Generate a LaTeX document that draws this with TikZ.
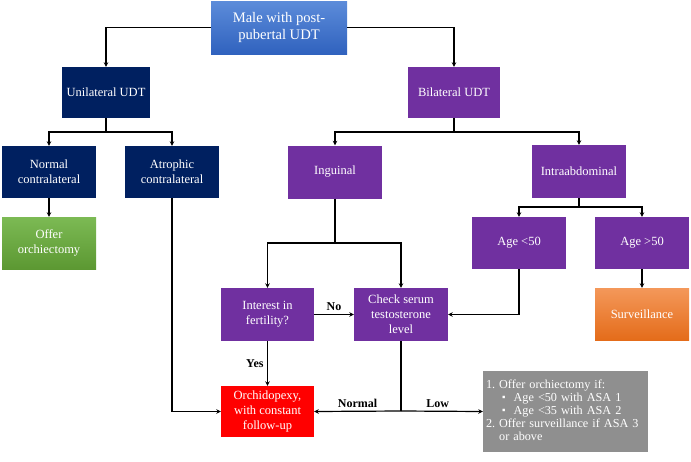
\documentclass[tikz,border=0pt]{standalone}
\usepackage{fontspec}
\setmainfont{Liberation Serif}
\usetikzlibrary{arrows.meta,calc}
\definecolor{navy}{HTML}{002060}
\definecolor{purp}{HTML}{7030A0}
\definecolor{redb}{HTML}{FF0000}
\definecolor{grayb}{HTML}{8F8F8F}
\begin{document}
\begin{tikzpicture}[x=1pt,y=-1pt,
  box/.style={rectangle,inner sep=2pt,align=center,text=white,font=\fontsize{12.5}{15}\selectfont,minimum width=94pt,minimum height=52pt},
  navyb/.style={box,fill=navy},
  purpb/.style={box,fill=purp},
  arr/.style={-{Stealth[length=4.5pt,width=4.5pt]}},
  ln/.style={line width=1.2pt,black},
  lab/.style={font=\bfseries\fontsize{12}{14}\selectfont,text=black}]
\useasboundingbox (0,0) rectangle (691,461);
% nodes
\node[box,minimum width=136pt,minimum height=53pt,top color={rgb,255:red,92;green,140;blue,218},bottom color={rgb,255:red,48;green,98;blue,190},font=\fontsize{14.6}{17}\selectfont] (top) at (279,27.5) {Male with post-\\pubertal UDT};
\node[navyb,minimum width=88pt,minimum height=51pt] (unil) at (106,92.5) {Unilateral UDT};
\node[purpb,minimum width=92pt,minimum height=51pt] (bil) at (454,92.5) {Bilateral UDT};
\node[navyb] (norm) at (49,172) {Normal\\contralateral};
\node[navyb] (atro) at (172,172) {Atrophic\\contralateral};
\node[box,top color={rgb,255:red,124;green,186;blue,84},bottom color={rgb,255:red,92;green,152;blue,50}] (offer) at (49,243) {Offer\\orchiectomy};
\node[purpb,minimum height=53pt] (ing) at (335,172) {Inguinal};
\node[purpb,minimum height=53pt] (intra) at (579,171.5) {Intraabdominal};
\node[purpb] (a50) at (519,243) {Age <50};
\node[purpb] (b50) at (642,243) {Age >50};
\node[box,top color={rgb,255:red,244;green,152;blue,90},bottom color={rgb,255:red,228;green,108;blue,26}] (surv) at (642,314) {Surveillance};
\node[purpb,minimum width=93pt,minimum height=53pt] (int) at (267.5,314.5) {Interest in\\fertility?};
\node[purpb,minimum height=53pt] (chk) at (401,314.5) {Check serum\\testosterone\\level};
\node[box,fill=redb,minimum width=93pt,minimum height=51pt] (orc) at (267.5,411.5) {Orchidopexy,\\with constant\\follow-up};
\node[box,fill=grayb,minimum width=165pt,minimum height=81pt,text width=159pt,align=left,inner sep=0pt,font=\fontsize{12.2}{13}\selectfont] (gray) at (565.5,411.5) {%
\begin{tabular}{@{}l@{\hspace{4pt}}l@{}}
1. & Offer orchiectomy if:\\
 & \hspace{3pt}\raisebox{1pt}{\scalebox{0.8}{▪}}\hspace{8pt}Age <50 with ASA 1\\
 & \hspace{3pt}\raisebox{1pt}{\scalebox{0.8}{▪}}\hspace{8pt}Age <35 with ASA 2\\
2. & Offer surveillance if ASA 3\\
 & or above
\end{tabular}};
% coordinates
\coordinate (u) at (106,132);
\coordinate (b) at (454,132);
\coordinate (g) at (335,243);
\coordinate (ia) at (579,207);
\coordinate (c) at (401,411);
% connectors
\draw[ln,arr] (top.west) -| (unil.north);
\draw[ln,arr] (top.east) -| (bil.north);
\draw[ln] (unil.south) -- (u);
\draw[ln,arr] (u) -| (norm.north);
\draw[ln,arr] (u) -| (atro.north);
\draw[ln,arr] (norm.south) -- (offer.north);
\draw[ln] (bil.south) -- (b);
\draw[ln,arr] (b) -| (ing.north);
\draw[ln,arr] (b) -| (intra.north);
\draw[ln] (ing.south) -- (g);
\draw[ln,arr] (g) -| (int.north);
\draw[ln,arr] (g) -| (chk.north);
\draw[ln] (intra.south) -- (ia);
\draw[ln,arr] (ia) -| (a50.north);
\draw[ln,arr] (ia) -| (b50.north);
\draw[ln,arr] (b50.south) -- (surv.north);
\draw[ln,arr] (a50.south) |- (chk.east);
\draw[ln,arr] (int.east) -- node[lab,above] {No} (chk.west);
\draw[ln,arr] (int.south) -- node[lab,left] {Yes} (orc.north);
\draw[ln,arr] (atro.south) |- (orc.west);
\draw[ln] (chk.south) -- (c);
\draw[ln,arr] (c) -- node[lab,above] {Normal} (orc.east);
\draw[ln,arr] (c) -- node[lab,above,pos=0.45] {Low} (gray.west);
\end{tikzpicture}
\end{document}
